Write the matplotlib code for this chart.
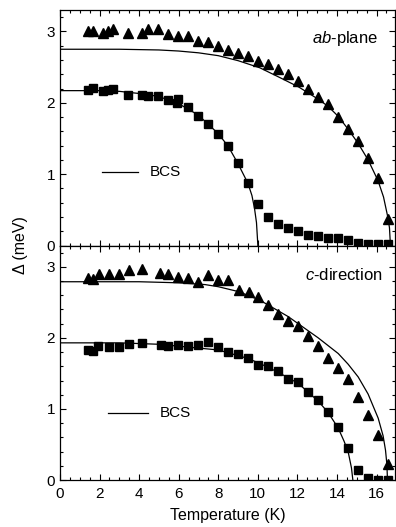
import numpy as np
import matplotlib
matplotlib.use("Agg")
from matplotlib import pyplot as plt
from matplotlib.ticker import MultipleLocator

plt.rcParams['font.family'] = ['Liberation Sans', 'DejaVu Sans']
plt.rcParams['mathtext.fontset'] = 'custom'
plt.rcParams['mathtext.it'] = 'Liberation Sans:italic'
plt.rcParams['mathtext.rm'] = 'Liberation Sans'

# ab-plane data (top panel)
ab_sq_T = [1.40, 1.68, 2.15, 2.41, 2.69, 3.42, 4.16, 4.46, 4.97, 5.47, 5.98, 5.90, 6.48, 6.98, 7.49,
           8.00, 8.50, 9.01, 9.51, 10.02, 10.52, 11.03, 11.53, 12.04, 12.54, 13.05, 13.55, 14.06,
           14.56, 15.07, 15.57, 16.07, 16.58]
ab_sq_D = [2.18, 2.21, 2.17, 2.18, 2.19, 2.11, 2.11, 2.10, 2.10, 2.04, 2.05, 1.99, 1.94, 1.82, 1.70,
           1.56, 1.39, 1.15, 0.88, 0.58, 0.40, 0.30, 0.24, 0.20, 0.15, 0.13, 0.11, 0.10,
           0.08, 0.03, 0.02, 0.02, 0.02]
ab_tr_T = [1.40, 1.68, 2.15, 2.41, 2.69, 3.42, 4.16, 4.46, 4.97, 5.47, 5.98, 6.48, 6.98, 7.49,
           8.00, 8.50, 9.01, 9.51, 10.02, 10.52, 11.03, 11.53, 12.04, 12.54, 13.05, 13.55, 14.06,
           14.56, 15.07, 15.57, 16.07, 16.58]
ab_tr_D = [3.01, 3.01, 2.98, 3.00, 3.03, 2.98, 2.98, 3.03, 3.03, 2.96, 2.94, 2.94, 2.87, 2.85,
           2.80, 2.74, 2.70, 2.65, 2.59, 2.55, 2.47, 2.41, 2.31, 2.20, 2.08, 1.98, 1.80,
           1.63, 1.46, 1.22, 0.94, 0.37]

# BCS curves
ab_bcs1_T = [0, 3, 5, 6, 7, 8, 9, 10.1, 11.06, 12.07, 13.05, 13.55, 14.06, 14.56, 15.07, 15.57,
             16.07, 16.35, 16.55, 16.65, 16.7]
ab_bcs1_D = [2.75, 2.75, 2.74, 2.725, 2.70, 2.66, 2.59, 2.49, 2.36, 2.22, 2.05, 1.95, 1.81, 1.63,
             1.43, 1.20, 0.91, 0.68, 0.42, 0.25, 0.0]
ab_bcs2_T = [0, 2, 3, 4, 4.97, 5.98, 6.98, 7.99, 8.5, 8.99, 9.5, 9.7, 9.83, 9.93, 10.0]
ab_bcs2_D = [2.17, 2.17, 2.16, 2.13, 2.09, 1.99, 1.83, 1.57, 1.39, 1.15, 0.87, 0.70, 0.52, 0.32, 0.0]

# c-direction data (bottom panel)
c_sq_T = [1.40, 1.68, 1.94, 2.49, 3.00, 3.48, 4.16, 5.10, 5.47, 5.98, 6.48, 6.98, 7.49, 7.99,
          8.50, 9.00, 9.50, 10.00, 10.52, 11.03, 11.53, 12.04, 12.54, 13.05, 13.55, 14.06,
          14.56, 15.07, 15.57, 16.07, 16.58]
c_sq_D = [1.83, 1.82, 1.88, 1.87, 1.87, 1.92, 1.93, 1.90, 1.89, 1.90, 1.88, 1.90, 1.94, 1.87,
          1.80, 1.77, 1.72, 1.62, 1.61, 1.54, 1.42, 1.38, 1.24, 1.13, 0.96, 0.74,
          0.45, 0.14, 0.03, 0.0, 0.0]
c_tr_T = [1.43, 1.68, 1.97, 2.47, 2.98, 3.48, 4.16, 5.05, 5.47, 5.98, 6.48, 6.98, 7.49, 7.99,
          8.50, 9.04, 9.55, 10.00, 10.52, 11.03, 11.53, 12.04, 12.54, 13.05, 13.55, 14.06,
          14.56, 15.07, 15.57, 16.08, 16.58]
c_tr_D = [2.84, 2.83, 2.90, 2.90, 2.90, 2.96, 2.97, 2.92, 2.90, 2.86, 2.84, 2.79, 2.89, 2.82,
          2.82, 2.68, 2.64, 2.58, 2.46, 2.33, 2.24, 2.17, 2.03, 1.89, 1.72, 1.57,
          1.42, 1.17, 0.91, 0.63, 0.23]

c_bcs1_T = [0, 4, 6, 7.33, 8, 9.04, 10.1, 11.53, 13.05, 14.06, 14.56, 15.07, 15.57, 16.08,
            16.33, 16.45, 16.52, 16.55]
c_bcs1_D = [2.79, 2.79, 2.775, 2.75, 2.72, 2.65, 2.53, 2.30, 2.00, 1.78, 1.63, 1.45, 1.21, 0.87,
            0.62, 0.42, 0.22, 0.0]
c_bcs2_T = [0, 3, 5, 6.5, 8.0, 9.5, 10.1, 11.0, 12.04, 13.05, 13.55, 14.06, 14.35, 14.56, 14.73, 14.8]
c_bcs2_D = [1.93, 1.93, 1.91, 1.87, 1.83, 1.71, 1.64, 1.52, 1.36, 1.11, 0.95, 0.73, 0.55, 0.40, 0.17, 0.0]

W, H = 396, 527
fig = plt.figure(figsize=(W / 100, H / 100), dpi=100)
left = 60 / W
width = (395 - 60) / W
ax1 = fig.add_axes([left, 1 - 245.5 / H, width, (245.5 - 10) / H])
ax2 = fig.add_axes([left, 1 - 480 / H, width, (480 - 245.5) / H])

panels = [
    (ax1, ab_sq_T, ab_sq_D, ab_tr_T, ab_tr_D, [(ab_bcs1_T, ab_bcs1_D), (ab_bcs2_T, ab_bcs2_D)],
     r"$\it{ab}$-plane", (0.949, 0.88), (0.125, 0.233, 0.312)),
    (ax2, c_sq_T, c_sq_D, c_tr_T, c_tr_D, [(c_bcs1_T, c_bcs1_D), (c_bcs2_T, c_bcs2_D)],
     r"$\it{c}$-direction", (0.963, 0.874), (0.143, 0.263, 0.287)),
]

for ax, sT, sD, tT, tD, curves, label, lpos, leg in panels:
    for cT, cD in curves:
        ax.plot(cT, cD, color='black', lw=0.9, zorder=2)
    ax.plot(sT, sD, 's', color='black', ms=6.3, zorder=3)
    ax.plot(tT, tD, '^', color='black', ms=7.5, zorder=3)
    ax.text(lpos[0], lpos[1], label, transform=ax.transAxes, ha='right', va='center', fontsize=12)
    ax.plot([leg[0], leg[1]], [leg[2], leg[2]], color='black', lw=0.9, transform=ax.transAxes)
    ax.text(leg[1] + 0.035, leg[2], 'BCS', transform=ax.transAxes, ha='left', va='center', fontsize=11)

    ax.set_xlim(0, 16.93)
    ax.set_ylim(0, 3.3)
    ax.xaxis.set_major_locator(MultipleLocator(2))
    ax.xaxis.set_minor_locator(MultipleLocator(0.5))
    ax.yaxis.set_major_locator(MultipleLocator(1))
    ax.yaxis.set_minor_locator(MultipleLocator(0.2))
    ax.tick_params(which='both', direction='in', top=True, right=True, labelsize=11, width=0.8)
    ax.tick_params(which='major', length=4.5)
    ax.tick_params(which='minor', length=2.5)
    for s in ax.spines.values():
        s.set_linewidth(0.9)

ax1.tick_params(labelbottom=False)
ax2.tick_params(axis='x', pad=5)
ax2.set_xlabel('Temperature (K)', fontsize=11.5, labelpad=5)
fig.text(20 / W, 1 - 245 / H, 'Δ (meV)', rotation=90, ha='center', va='center', fontsize=11.5)

fig.savefig('out.png', dpi=100)
